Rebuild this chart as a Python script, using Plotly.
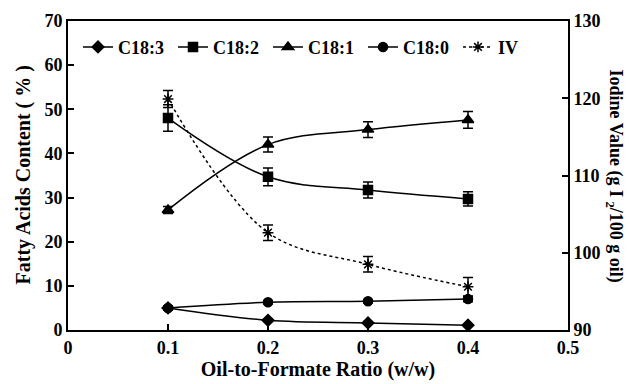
import plotly.graph_objects as go

ratio = [0.1, 0.2, 0.3, 0.4]
c183 = [5.0, 2.2, 1.6, 1.1]
c183_err = [0.4, 0.3, 0.3, 0.2]
c182 = [48.0, 34.7, 31.7, 29.7]
c182_err = [3.0, 2.0, 1.8, 1.6]
c181 = [27.2, 42.0, 45.4, 47.6]
c181_err = [0.8, 1.7, 1.8, 1.9]
c180 = [5.0, 6.3, 6.5, 7.0]
c180_err = [0.5, 0.4, 0.4, 0.6]
iv = [119.9, 102.6, 98.5, 95.6]
iv_err = [1.1, 1.0, 1.0, 1.2]

FONT = "Liberation Serif"
fig = go.Figure()

def add(name, y, err, symbol, size, yaxis="y", dash="solid"):
    fig.add_trace(go.Scatter(
        x=ratio, y=y, name=name, mode="lines+markers", yaxis=yaxis,
        line=dict(color="black", width=1.5, shape="spline", dash=dash),
        marker=dict(symbol=symbol, size=size, color="black",
                    line=dict(color="black", width=1.5)),
        error_y=dict(type="data", array=err, visible=True, color="black",
                     thickness=1.5, width=5),
    ))

add("C18:3", c183, c183_err, "diamond", 9)
add("C18:2", c182, c182_err, "square", 9)
add("C18:1", c181, c181_err, "triangle-up", 10)
add("C18:0", c180, c180_err, "circle", 9)
add("IV", iv, iv_err, "asterisk-open", 9, yaxis="y2", dash="dot")

tf = dict(family=FONT, size=18, color="black", weight="bold")
fig.update_layout(
    width=630, height=384,
    margin=dict(l=68, r=62, t=21, b=54),
    paper_bgcolor="white", plot_bgcolor="white",
    font=dict(family=FONT, size=18, color="black"),
    showlegend=True,
    legend=dict(orientation="h", x=0.02, y=0.975, xanchor="left", yanchor="top",
                font=dict(family=FONT, size=18, color="black", weight="bold"),
                bgcolor="rgba(0,0,0,0)", tracegroupgap=0,
                entrywidth=50, entrywidthmode="pixels"),
    xaxis=dict(range=[0, 0.5], tickvals=[0, 0.1, 0.2, 0.3, 0.4, 0.5],
               ticktext=["0", "0.1", "0.2", "0.3", "0.4", "0.5"],
               ticks="inside", ticklen=6, tickwidth=1.5, tickcolor="black",
               showline=True, linecolor="black", linewidth=2, mirror=True,
               showgrid=False, zeroline=False, tickfont=tf,
               title=dict(text="<b>Oil-to-Formate Ratio (w/w)</b>", standoff=0,
                          font=dict(family=FONT, size=20, color="black"))),
    yaxis=dict(range=[0, 70], dtick=10, ticks="inside", ticklen=6, tickwidth=1.5,
               tickcolor="black", showline=True, linecolor="black", linewidth=2,
               showgrid=False, zeroline=False, tickfont=tf),
    yaxis2=dict(range=[90, 130], dtick=10, overlaying="y", side="right",
                ticks="inside", ticklen=6, tickwidth=1.5, tickcolor="black",
                showline=True, linecolor="black", linewidth=2,
                showgrid=False, zeroline=False, tickfont=tf),
    annotations=[
        dict(text="<b>Fatty Acids Content ( % )</b>",
             xref="paper", yref="paper", x=-0.09, y=0.5,
             xanchor="center", yanchor="middle", textangle=-90,
             showarrow=False, font=dict(family=FONT, size=20, color="black")),
        dict(text="<b>Iodine Value (g I <sub>2</sub>/100 g oil)</b>",
             xref="paper", yref="paper", x=1.092, y=0.5,
             xanchor="center", yanchor="middle", textangle=90,
             showarrow=False, font=dict(family=FONT, size=18, color="black")),
    ],
)

fig.write_html("out.html")
